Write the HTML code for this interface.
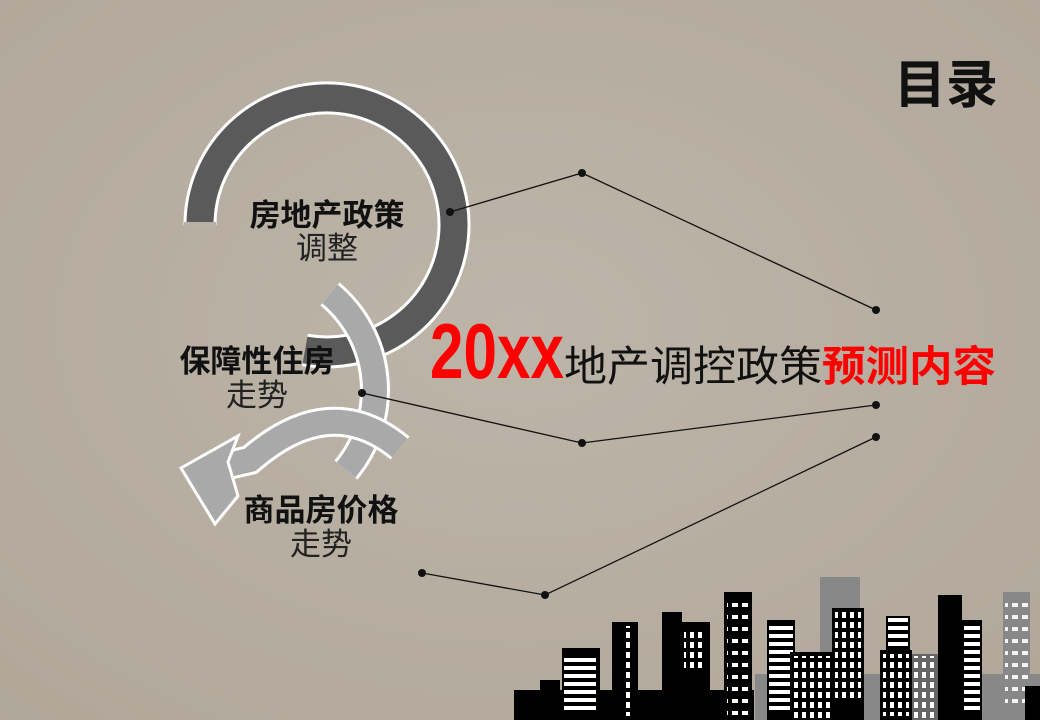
<!DOCTYPE html>
<html><head><meta charset="utf-8">
<style>
html,body{margin:0;padding:0;}
body{width:1040px;height:720px;overflow:hidden;background:#b9b1a5;}
svg{display:block;}
text{font-family:"Liberation Sans","Noto Sans CJK SC",sans-serif;}
</style></head><body>
<svg width="1040" height="720" viewBox="0 0 1040 720">
<defs>
<radialGradient id="bg" cx="50%" cy="45%" r="75%">
<stop offset="0" stop-color="#bdb5a9"/><stop offset="1" stop-color="#b0a799"/>
</radialGradient>
<pattern id="win" width="10" height="12" patternUnits="userSpaceOnUse"><rect x="2" y="3" width="6" height="4" fill="#fff"/></pattern>
<pattern id="win2" width="8" height="10" patternUnits="userSpaceOnUse"><rect x="2" y="2" width="4" height="6" fill="#fff"/></pattern>
<pattern id="hl" width="10" height="8" patternUnits="userSpaceOnUse"><rect x="0" y="2" width="10" height="4" fill="#fff"/></pattern>
</defs>
<rect width="1040" height="720" fill="url(#bg)"/>

<path d="M200,225 A127,127 0 1 1 305,350" fill="none" stroke="#fff" stroke-width="33"/>
<path d="M200,225 A127,127 0 1 1 305,350" fill="none" stroke="#5a5a5a" stroke-width="27"/>
<rect x="184" y="222" width="32" height="6" fill="#b9b1a5"/>
<path d="M330,294 A125,125 0 0 1 346,470" fill="none" stroke="#fff" stroke-width="30"/>
<path d="M330,294 A125,125 0 0 1 346,470" fill="none" stroke="#a9a9a9" stroke-width="24"/>
<path d="M400,448 Q330,390 250,460 L215,468" fill="none" stroke="#fff" stroke-width="30"/>
<path d="M400,448 Q330,390 250,460 L215,468" fill="none" stroke="#a9a9a9" stroke-width="24"/>
<polygon points="181,468 238,436 228,462 238,496 215,524" fill="#a9a9a9" stroke="#fff" stroke-width="3"/>

<g stroke="#111" stroke-width="1.3" fill="none">
<polyline points="450,212 582,173 876,310"/>
<polyline points="362,393 582,443 876,405"/>
<polyline points="422,573 545,595 876,437"/>
</g>
<g fill="#111">
<circle cx="450" cy="212" r="4"/><circle cx="582" cy="173" r="4"/><circle cx="876" cy="310" r="4"/>
<circle cx="362" cy="393" r="4"/><circle cx="582" cy="443" r="4"/><circle cx="876" cy="405" r="4"/>
<circle cx="422" cy="573" r="4"/><circle cx="545" cy="595" r="4"/><circle cx="876" cy="437" r="4"/>
</g>

<text x="327" y="226" font-size="31" font-weight="bold" text-anchor="middle" fill="#111">房地产政策</text>
<text x="327" y="259" font-size="31" text-anchor="middle" fill="#222">调整</text>
<text x="257" y="372" font-size="31" font-weight="bold" text-anchor="middle" fill="#111">保障性住房</text>
<text x="257" y="406" font-size="31" text-anchor="middle" fill="#222">走势</text>
<text x="321" y="521" font-size="31" font-weight="bold" text-anchor="middle" fill="#111">商品房价格</text>
<text x="321" y="555" font-size="31" text-anchor="middle" fill="#222">走势</text>

<text x="894" y="103" font-size="52" font-weight="bold" fill="#111">目录</text>

<text x="430" y="378" font-size="78" font-weight="bold" fill="#f00" textLength="134" lengthAdjust="spacingAndGlyphs">20xx</text>
<text x="564" y="381" font-size="42" fill="#111" textLength="258" lengthAdjust="spacingAndGlyphs">地产调控政策</text>
<text x="822" y="381" font-size="42" font-weight="bold" fill="#f00" textLength="174" lengthAdjust="spacingAndGlyphs">预测内容</text>

<g>
<rect x="820" y="577" width="40" height="143" fill="#888"/>
<rect x="755" y="674" width="290" height="46" fill="#888"/>
<rect x="1003" y="592" width="27" height="128" fill="#888"/>
<rect x="1005" y="600" width="23" height="110" fill="url(#win)" opacity=".9"/>
<rect x="514" y="690" width="240" height="30" fill="#000"/>
<rect x="540" y="680" width="20" height="40" fill="#000"/>
<rect x="562" y="648" width="38" height="72" fill="#000"/>
<rect x="564" y="656" width="32" height="56" fill="url(#hl)"/>
<rect x="612" y="622" width="26" height="98" fill="#000"/>
<rect x="625" y="626" width="8" height="90" fill="url(#win2)"/>
<rect x="662" y="612" width="20" height="108" fill="#000"/>
<rect x="680" y="622" width="30" height="98" fill="#000"/>
<rect x="684" y="628" width="20" height="40" fill="url(#win2)"/>
<rect x="724" y="592" width="28" height="128" fill="#000"/>
<rect x="727" y="598" width="22" height="118" fill="url(#win)"/>
<rect x="767" y="620" width="28" height="100" fill="#000"/>
<rect x="769" y="624" width="24" height="90" fill="url(#hl)"/>
<rect x="790" y="652" width="65" height="68" fill="#000"/>
<rect x="793" y="656" width="59" height="62" fill="url(#win2)"/>
<rect x="832" y="608" width="32" height="112" fill="#000"/>
<rect x="835" y="612" width="26" height="90" fill="url(#win2)"/>
<rect x="880" y="650" width="32" height="70" fill="#000"/>
<rect x="883" y="654" width="26" height="62" fill="url(#win2)"/>
<rect x="886" y="616" width="24" height="36" fill="#000"/>
<rect x="888" y="618" width="20" height="32" fill="url(#hl)"/>
<rect x="912" y="654" width="26" height="66" fill="#666"/>
<rect x="914" y="656" width="22" height="62" fill="url(#win2)"/>
<rect x="938" y="595" width="24" height="125" fill="#000"/>
<rect x="962" y="620" width="20" height="100" fill="#000"/>
<rect x="964" y="624" width="16" height="90" fill="url(#hl)"/>
<rect x="1025" y="686" width="15" height="34" fill="#000"/>
</g>
</svg>
</body></html>
